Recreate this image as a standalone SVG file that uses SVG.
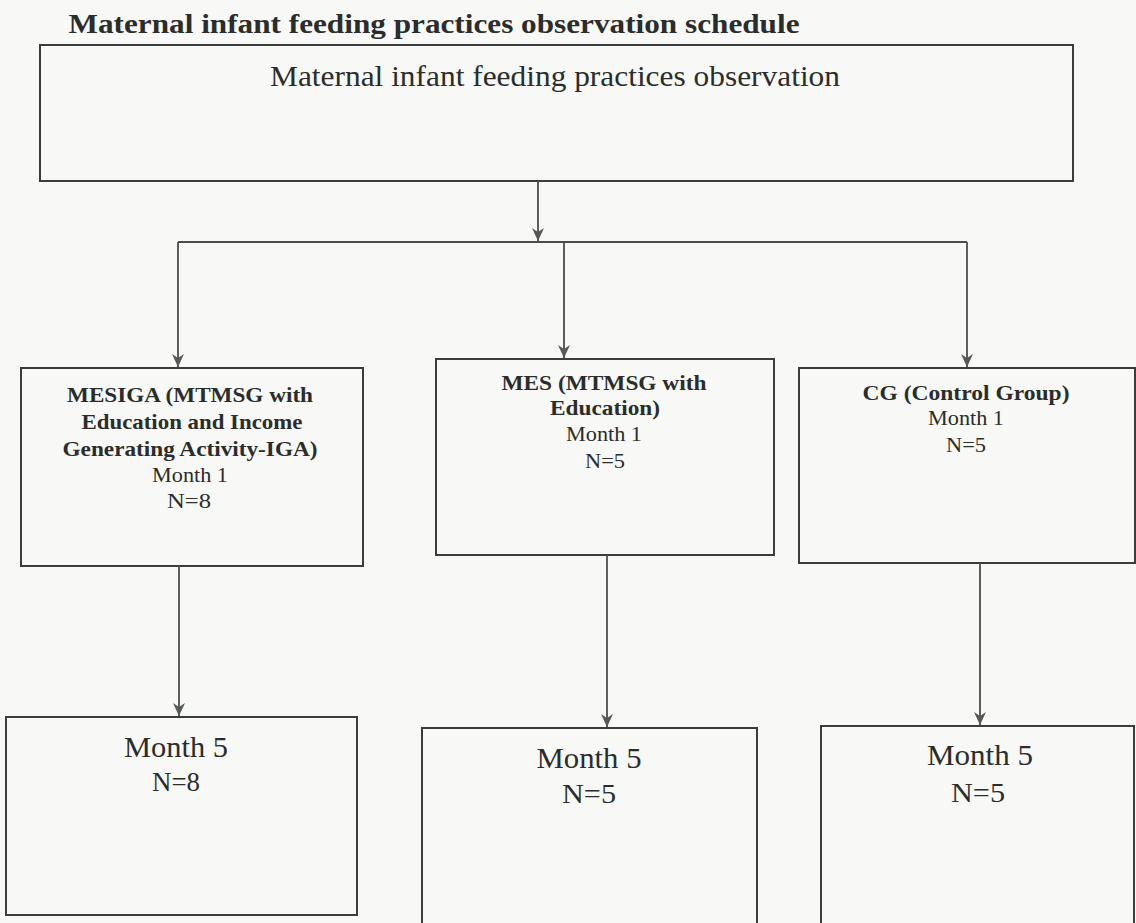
<svg xmlns="http://www.w3.org/2000/svg" width="1136" height="923" viewBox="0 0 1136 923">
  <style>
    .box { fill: none; stroke: #3a3d3c; stroke-width: 2; }
    .wire { fill: none; stroke: #4a4d4c; stroke-width: 1.8; }
    .t { font-family: "Liberation Serif", "Times New Roman", serif; fill: #2b2d2c; text-anchor: middle; }
    .b { font-weight: bold; }
  </style>
  <defs>
    <marker id="arrow" viewBox="0 0 14 12" refX="13" refY="6" markerWidth="14" markerHeight="12" markerUnits="userSpaceOnUse" orient="auto">
      <path d="M0 0 L13 6 L0 12 L4 6 Z" fill="#555a58"/>
    </marker>
  </defs>

  <rect width="1136" height="923" fill="#f8f9f6"/>

  <!-- heading -->
  <text class="t b" x="434" y="33" font-size="27" textLength="731" lengthAdjust="spacingAndGlyphs">Maternal infant feeding practices observation schedule</text>

  <g id="root">
    <rect class="box" x="40" y="45" width="1033" height="136"/>
    <text class="t" x="555" y="86" font-size="30" textLength="570" lengthAdjust="spacingAndGlyphs">Maternal infant feeding practices observation</text>
  </g>

  <g id="mesiga">
    <rect class="box" x="21" y="368" width="342" height="198"/>
    <text class="t b" x="190" y="402" font-size="22" textLength="246" lengthAdjust="spacingAndGlyphs">MESIGA (MTMSG with</text>
    <text class="t b" x="192" y="429" font-size="22" textLength="221" lengthAdjust="spacingAndGlyphs">Education and Income</text>
    <text class="t b" x="190" y="456" font-size="22" textLength="255" lengthAdjust="spacingAndGlyphs">Generating Activity-IGA)</text>
    <text class="t" x="190" y="482" font-size="22" textLength="76" lengthAdjust="spacingAndGlyphs">Month 1</text>
    <text class="t" x="189" y="508" font-size="22" textLength="44" lengthAdjust="spacingAndGlyphs">N=8</text>
  </g>

  <g id="mes">
    <rect class="box" x="436" y="359" width="338" height="196"/>
    <text class="t b" x="604" y="390" font-size="22" textLength="205" lengthAdjust="spacingAndGlyphs">MES (MTMSG with</text>
    <text class="t b" x="605" y="415" font-size="22" textLength="110" lengthAdjust="spacingAndGlyphs">Education)</text>
    <text class="t" x="604" y="441" font-size="22" textLength="76" lengthAdjust="spacingAndGlyphs">Month 1</text>
    <text class="t" x="605" y="468" font-size="22" textLength="40" lengthAdjust="spacingAndGlyphs">N=5</text>
  </g>

  <g id="cg">
    <rect class="box" x="799" y="368" width="336" height="195"/>
    <text class="t b" x="966" y="400" font-size="22" textLength="207" lengthAdjust="spacingAndGlyphs">CG (Control Group)</text>
    <text class="t" x="966" y="425" font-size="22" textLength="76" lengthAdjust="spacingAndGlyphs">Month 1</text>
    <text class="t" x="966" y="452" font-size="22" textLength="40" lengthAdjust="spacingAndGlyphs">N=5</text>
  </g>

  <g id="mesiga-m5">
    <rect class="box" x="6" y="717" width="351" height="198"/>
    <text class="t" x="176" y="757" font-size="30" textLength="104" lengthAdjust="spacingAndGlyphs">Month 5</text>
    <text class="t" x="176" y="791" font-size="28" textLength="48" lengthAdjust="spacingAndGlyphs">N=8</text>
  </g>

  <g id="mes-m5">
    <rect class="box" x="422" y="728" width="335" height="205"/>
    <text class="t" x="589" y="768" font-size="30" textLength="105" lengthAdjust="spacingAndGlyphs">Month 5</text>
    <text class="t" x="589" y="803" font-size="28" textLength="54" lengthAdjust="spacingAndGlyphs">N=5</text>
  </g>

  <g id="cg-m5">
    <rect class="box" x="821" y="726" width="313" height="207"/>
    <text class="t" x="980" y="765" font-size="30" textLength="106" lengthAdjust="spacingAndGlyphs">Month 5</text>
    <text class="t" x="978" y="802" font-size="28" textLength="54" lengthAdjust="spacingAndGlyphs">N=5</text>
  </g>

  <g id="connectors">
    <path class="wire" d="M538 181 V241" marker-end="url(#arrow)"/>
    <path class="wire" d="M178 242 H967"/>
    <path class="wire" d="M178 242 V367" marker-end="url(#arrow)"/>
    <path class="wire" d="M564 242 V358" marker-end="url(#arrow)"/>
    <path class="wire" d="M967 242 V367" marker-end="url(#arrow)"/>
    <path class="wire" d="M179 566 V716" marker-end="url(#arrow)"/>
    <path class="wire" d="M607 555 V727" marker-end="url(#arrow)"/>
    <path class="wire" d="M980 563 V725" marker-end="url(#arrow)"/>
  </g>
</svg>
